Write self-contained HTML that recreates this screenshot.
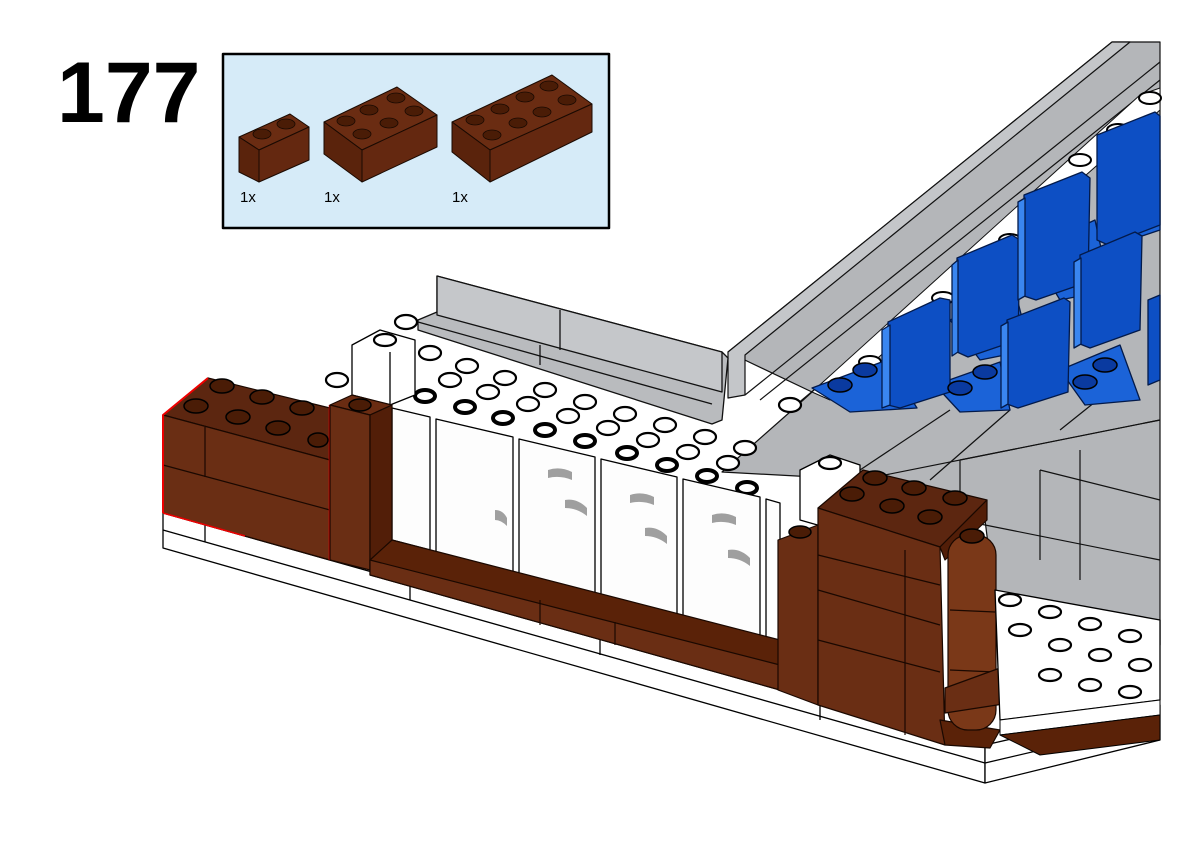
<!DOCTYPE html>
<html><head><meta charset="utf-8"><style>
html,body{margin:0;padding:0;background:#fff;}
svg{display:block;}
text{font-family:"Liberation Sans",sans-serif;}
</style></head><body>
<svg width="1201" height="842" viewBox="0 0 1201 842" xmlns="http://www.w3.org/2000/svg" stroke-linejoin="round">
<rect width="1201" height="842" fill="#fff"/>
<text x="57" y="122" font-size="86" font-weight="bold" fill="#000">177</text>

<!-- parts box -->
<rect x="223" y="54" width="386" height="174" fill="#d6ebf8" stroke="#000" stroke-width="2.5"/>
<g stroke="#1a0a02" stroke-width="1">
<polygon points="239,137 290,114 309,127 259,150" fill="#6a2c12"/>
<polygon points="239,137 259,150 259,182 239,172" fill="#5a230c"/>
<polygon points="259,150 309,127 309,160 259,182" fill="#642810"/>
<polygon points="324,122 397,87 437,115 362,150" fill="#6a2c12"/>
<polygon points="324,122 362,150 362,182 324,154" fill="#5a230c"/>
<polygon points="362,150 437,115 437,147 362,182" fill="#642810"/>
<polygon points="452,122 552,75 592,104 490,150" fill="#6a2c12"/>
<polygon points="452,122 490,150 490,182 452,152" fill="#5a230c"/>
<polygon points="490,150 592,104 592,132 490,182" fill="#642810"/>
</g>
<g fill="#4a1c06" stroke="#1a0a02" stroke-width="0.8">
<ellipse cx="262" cy="134" rx="9" ry="5"/><ellipse cx="286" cy="124" rx="9" ry="5"/>
<ellipse cx="346" cy="121" rx="9" ry="5"/><ellipse cx="369" cy="110" rx="9" ry="5"/><ellipse cx="396" cy="98" rx="9" ry="5"/>
<ellipse cx="362" cy="134" rx="9" ry="5"/><ellipse cx="389" cy="123" rx="9" ry="5"/><ellipse cx="414" cy="111" rx="9" ry="5"/>
<ellipse cx="475" cy="120" rx="9" ry="5"/><ellipse cx="500" cy="109" rx="9" ry="5"/><ellipse cx="525" cy="97" rx="9" ry="5"/><ellipse cx="549" cy="86" rx="9" ry="5"/>
<ellipse cx="492" cy="135" rx="9" ry="5"/><ellipse cx="518" cy="123" rx="9" ry="5"/><ellipse cx="542" cy="112" rx="9" ry="5"/><ellipse cx="567" cy="100" rx="9" ry="5"/>
</g>
<text x="240" y="202" font-size="15">1x</text>
<text x="324" y="202" font-size="15">1x</text>
<text x="452" y="202" font-size="15">1x</text>

<!-- gray stands -->
<g stroke="#111" stroke-width="1.2">
<polygon points="728,352 1112,42 1160,42 1160,645 995,600 985,520 870,480 722,472 790,412 812,392" fill="#b4b6b9"/>
<polygon points="728,352 1112,42 1130,42 745,355 745,395 728,398" fill="#c4c6c9"/>
<line x1="745" y1="395" x2="1160" y2="62"/>
<line x1="760" y1="400" x2="1160" y2="80"/>
<line x1="790" y1="410" x2="1160" y2="100"/>
<line x1="860" y1="480" x2="1160" y2="420"/>
<line x1="960" y1="460" x2="960" y2="520"/>
<line x1="960" y1="460" x2="1160" y2="420"/>
<line x1="1040" y1="470" x2="1040" y2="560"/>
<line x1="1080" y1="450" x2="1080" y2="580"/>
<line x1="1040" y1="470" x2="1160" y2="500"/>
<line x1="960" y1="520" x2="1160" y2="560"/>
<line x1="860" y1="470" x2="950" y2="410"/>
<line x1="930" y1="480" x2="1010" y2="410"/>
<line x1="1060" y1="430" x2="1110" y2="390"/>
</g>
<!-- white stud strip -->
<polygon points="812,392 1140,95 1160,88 1160,110 830,400" fill="#fff" stroke="#111"/>
<g fill="#fff" stroke="#000" stroke-width="2">
<ellipse cx="845" cy="385" rx="11" ry="6"/><ellipse cx="870" cy="362" rx="11" ry="6"/><ellipse cx="895" cy="340" rx="11" ry="6"/>
<ellipse cx="943" cy="298" rx="11" ry="6"/><ellipse cx="1010" cy="240" rx="11" ry="6"/><ellipse cx="1050" cy="205" rx="11" ry="6"/>
<ellipse cx="1080" cy="160" rx="11" ry="6"/><ellipse cx="1118" cy="130" rx="11" ry="6"/><ellipse cx="1150" cy="98" rx="11" ry="6"/>
</g>
<!-- blue seats -->
<g stroke="#031a4a" stroke-width="1.3">
<polygon points="812,388 887,360 917,408 850,412" fill="#1b63d8"/>
<polygon points="935,385 1000,362 1010,410 960,412" fill="#1b63d8"/>
<polygon points="1060,370 1120,345 1140,400 1085,405" fill="#1b63d8"/>
<polygon points="950,320 1015,290 1030,350 980,360" fill="#1b63d8"/>
<polygon points="1030,250 1095,220 1110,290 1060,300" fill="#1b63d8"/>
<polygon points="1100,190 1160,160 1160,230 1130,240" fill="#1b63d8"/>
<polygon points="888,322 940,298 950,300 950,392 900,408 888,405" fill="#0d4fc4"/>
<polygon points="957,258 1012,235 1020,240 1018,340 968,357 957,352" fill="#0d4fc4"/>
<polygon points="1024,195 1082,172 1090,178 1088,282 1036,300 1024,296" fill="#0d4fc4"/>
<polygon points="1097,135 1155,112 1160,116 1160,225 1108,245 1097,240" fill="#0d4fc4"/>
<polygon points="1007,320 1064,298 1070,302 1068,392 1018,408 1007,404" fill="#0d4fc4"/>
<polygon points="1080,255 1135,232 1142,236 1140,330 1090,348 1080,344" fill="#0d4fc4"/>
<polygon points="1148,300 1160,295 1160,380 1148,385" fill="#0d4fc4"/>
<polygon points="882,330 890,325 890,405 882,408" fill="#3a86f0"/>
<polygon points="952,265 958,260 958,352 952,356" fill="#3a86f0"/>
<polygon points="1018,202 1025,198 1025,296 1018,300" fill="#3a86f0"/>
<polygon points="1001,326 1008,322 1008,404 1001,408" fill="#3a86f0"/>
<polygon points="1074,262 1081,258 1081,344 1074,348" fill="#3a86f0"/>
</g>
<g fill="#0a3aa0" stroke="#000" stroke-width="1.5">
<ellipse cx="840" cy="385" rx="12" ry="7"/><ellipse cx="865" cy="370" rx="12" ry="7"/>
<ellipse cx="960" cy="388" rx="12" ry="7"/><ellipse cx="985" cy="372" rx="12" ry="7"/>
<ellipse cx="1085" cy="382" rx="12" ry="7"/><ellipse cx="1105" cy="365" rx="12" ry="7"/>
</g>

<!-- gray bench -->
<g stroke="#111" stroke-width="1.3">
<polygon points="437,276 722,352 728,358 722,420 712,424 418,330 418,320 437,312" fill="#b9bbbe"/>
<polygon points="437,276 722,352 722,392 437,315" fill="#c5c7ca"/>
<line x1="418" y1="322" x2="712" y2="404"/>
<line x1="560" y1="310" x2="560" y2="350"/>
<line x1="540" y1="345" x2="540" y2="365"/>
</g>

<!-- white top studs -->
<g fill="#fff" stroke="#000" stroke-width="2.2">
<ellipse cx="406" cy="322" rx="11" ry="7"/><ellipse cx="380" cy="340" rx="11" ry="7"/><ellipse cx="337" cy="380" rx="11" ry="7"/>
<ellipse cx="430" cy="353" rx="11" ry="7"/><ellipse cx="467" cy="366" rx="11" ry="7"/><ellipse cx="505" cy="378" rx="11" ry="7"/>
<ellipse cx="545" cy="390" rx="11" ry="7"/><ellipse cx="585" cy="402" rx="11" ry="7"/><ellipse cx="625" cy="414" rx="11" ry="7"/>
<ellipse cx="665" cy="425" rx="11" ry="7"/><ellipse cx="705" cy="437" rx="11" ry="7"/><ellipse cx="745" cy="448" rx="11" ry="7"/>
<ellipse cx="450" cy="380" rx="11" ry="7"/><ellipse cx="488" cy="392" rx="11" ry="7"/><ellipse cx="528" cy="404" rx="11" ry="7"/>
<ellipse cx="568" cy="416" rx="11" ry="7"/><ellipse cx="608" cy="428" rx="11" ry="7"/><ellipse cx="648" cy="440" rx="11" ry="7"/>
<ellipse cx="688" cy="452" rx="11" ry="7"/><ellipse cx="728" cy="463" rx="11" ry="7"/><ellipse cx="790" cy="405" rx="11" ry="7"/>
</g>
<g fill="#fff" stroke="#000" stroke-width="4">
<ellipse cx="425" cy="396" rx="10" ry="6"/><ellipse cx="465" cy="407" rx="10" ry="6"/><ellipse cx="503" cy="418" rx="10" ry="6"/>
<ellipse cx="545" cy="430" rx="10" ry="6"/><ellipse cx="585" cy="441" rx="10" ry="6"/><ellipse cx="627" cy="453" rx="10" ry="6"/>
<ellipse cx="667" cy="465" rx="10" ry="6"/><ellipse cx="707" cy="476" rx="10" ry="6"/><ellipse cx="747" cy="488" rx="10" ry="6"/>
</g>
<!-- white bricks -->
<g stroke="#000" stroke-width="1.3" fill="#fff">
<polygon points="352,345 380,330 415,340 415,395 390,405 352,395"/>
<line x1="390" y1="352" x2="390" y2="405"/>
<polygon points="800,470 830,455 860,465 860,520 835,530 800,520"/>
</g>
<g fill="#fff" stroke="#000" stroke-width="2.2"><ellipse cx="385" cy="340" rx="11" ry="6"/><ellipse cx="830" cy="463" rx="11" ry="6"/></g>

<!-- windows -->
<g stroke="#000" stroke-width="1.3" fill="#fdfdfd">
<polygon points="392,408 430,417 430,550 392,540"/>
<polygon points="436,419 513,437 513,572 436,552"/>
<polygon points="519,439 595,457 595,595 519,574"/>
<polygon points="601,459 677,477 677,617 601,597"/>
<polygon points="683,479 760,497 760,640 683,619"/>
<polygon points="766,499 780,503 780,645 766,642"/>
</g>
<g fill="#888" opacity="0.8">
<path d="M548 470 q12 -4 24 2 l0 8 q-12 -5 -24 -2z"/><path d="M565 500 q12 -2 22 8 l0 8 q-10 -8 -22 -8z"/>
<path d="M630 495 q12 -4 24 2 l0 8 q-12 -5 -24 -2z"/><path d="M645 528 q12 -2 22 8 l0 8 q-10 -8 -22 -8z"/>
<path d="M712 515 q12 -4 24 2 l0 8 q-12 -5 -24 -2z"/><path d="M728 550 q12 -2 22 8 l0 8 q-10 -8 -22 -8z"/>
<path d="M495 510 q8 0 12 8 l0 8 q-6 -6 -12 -6z"/>
</g>

<!-- base -->
<g stroke="#000" stroke-width="1.3" fill="#fff">
<polygon points="163,513 985,745 985,783 163,548"/>
<line x1="163" y1="530" x2="985" y2="763"/>
<line x1="205" y1="525" x2="205" y2="542"/>
<line x1="410" y1="582" x2="410" y2="600"/>
<line x1="600" y1="636" x2="600" y2="655"/>
<line x1="820" y1="700" x2="820" y2="720"/>
<polygon points="985,745 1160,705 1160,740 985,783"/>
<line x1="985" y1="763" x2="1160" y2="722"/>
</g>

<!-- left brown brick (red outline) -->
<g stroke="#1a0800" stroke-width="1.2">
<polygon points="163,415 208,378 330,408 330,460" fill="#5c2610"/>
<polygon points="163,415 330,460 330,560 163,513" fill="#6a2e14"/>
<line x1="163" y1="465" x2="330" y2="510"/>
<line x1="205" y1="427" x2="205" y2="477"/>
</g>
<polyline points="163,513 163,415 208,378" fill="none" stroke="#e00" stroke-width="2"/>
<line x1="330" y1="405" x2="330" y2="560" stroke="#e00" stroke-width="2.5"/>
<line x1="163" y1="513" x2="245" y2="536" stroke="#e00" stroke-width="1.5"/>
<g fill="#4a1c06" stroke="#000" stroke-width="1.5">
<ellipse cx="222" cy="386" rx="12" ry="7"/><ellipse cx="196" cy="406" rx="12" ry="7"/>
<ellipse cx="262" cy="397" rx="12" ry="7"/><ellipse cx="238" cy="417" rx="12" ry="7"/>
<ellipse cx="302" cy="408" rx="12" ry="7"/><ellipse cx="278" cy="428" rx="12" ry="7"/><ellipse cx="318" cy="440" rx="10" ry="7"/>
</g>
<!-- brown column -->
<g stroke="#1a0800" stroke-width="1.2">
<polygon points="330,405 352,395 392,405 370,415" fill="#6a2c12"/>
<polygon points="330,405 370,415 370,570 330,560" fill="#6a2e14"/>
<polygon points="370,415 392,405 392,545 370,570" fill="#521e08"/>
</g>
<ellipse cx="360" cy="405" rx="11" ry="6" fill="#4a1c06" stroke="#000" stroke-width="1.5"/>
<!-- brown ledge -->
<g stroke="#1a0800" stroke-width="1.2">
<polygon points="392,540 780,640 780,690 370,575 370,560" fill="#5a2208"/>
<polygon points="370,560 780,665 780,690 370,575" fill="#6a2e14"/>
<line x1="540" y1="600" x2="540" y2="625"/>
<line x1="615" y1="622" x2="615" y2="645"/>
</g>

<!-- right brown pillar -->
<g stroke="#1a0800" stroke-width="1.2">
<polygon points="778,540 818,525 818,705 778,690" fill="#6a2e14"/>
<polygon points="818,508 863,470 987,500 940,547" fill="#5c2610"/>
<polygon points="818,508 940,547 945,745 818,705" fill="#6a2e14"/>
<polygon points="940,547 987,500 987,520 945,560" fill="#521e08"/>
<line x1="818" y1="590" x2="940" y2="625"/>
<line x1="818" y1="640" x2="940" y2="672"/>
<line x1="818" y1="555" x2="940" y2="585"/>
<line x1="905" y1="550" x2="905" y2="735"/>
<polygon points="940,720 1000,730 990,748 945,745" fill="#5a2208"/>
<rect x="948" y="535" width="48" height="195" rx="20" fill="#7a3818"/>
<line x1="950" y1="610" x2="995" y2="612"/><line x1="950" y1="670" x2="995" y2="672"/>
<path d="M945 688 l55 -20 q40 -5 40 15 q0 18 -30 20 l-65 10z" fill="#6a2e14"/>
</g>
<g fill="#4a1c06" stroke="#000" stroke-width="1.5">
<ellipse cx="875" cy="478" rx="12" ry="7"/><ellipse cx="914" cy="488" rx="12" ry="7"/><ellipse cx="955" cy="498" rx="12" ry="7"/>
<ellipse cx="852" cy="494" rx="12" ry="7"/><ellipse cx="892" cy="506" rx="12" ry="7"/><ellipse cx="930" cy="517" rx="12" ry="7"/>
<ellipse cx="972" cy="536" rx="12" ry="7"/><ellipse cx="800" cy="532" rx="11" ry="6"/><ellipse cx="1018" cy="676" rx="10" ry="6"/>
</g>

<!-- right white plate -->
<polygon points="995,590 1160,620 1160,700 1000,720" fill="#fff" stroke="#000" stroke-width="1.3"/>
<polygon points="1000,720 1160,700 1160,715 1000,735" fill="#fff" stroke="#000"/>
<polygon points="1000,735 1160,715 1160,740 1040,755" fill="#5a2208" stroke="#000"/>
<g fill="#fff" stroke="#000" stroke-width="2.2">
<ellipse cx="1010" cy="600" rx="11" ry="6"/><ellipse cx="1050" cy="612" rx="11" ry="6"/><ellipse cx="1090" cy="624" rx="11" ry="6"/><ellipse cx="1130" cy="636" rx="11" ry="6"/>
<ellipse cx="1020" cy="630" rx="11" ry="6"/><ellipse cx="1060" cy="645" rx="11" ry="6"/><ellipse cx="1100" cy="655" rx="11" ry="6"/><ellipse cx="1140" cy="665" rx="11" ry="6"/>
<ellipse cx="1050" cy="675" rx="11" ry="6"/><ellipse cx="1090" cy="685" rx="11" ry="6"/><ellipse cx="1130" cy="692" rx="11" ry="6"/>
</g>
</svg>
</body></html>
